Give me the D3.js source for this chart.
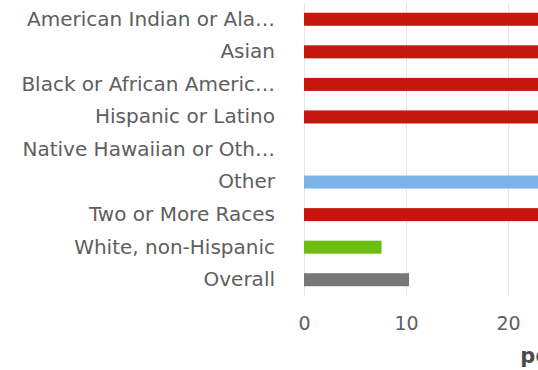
<!DOCTYPE html>
<html>
<head>
<meta charset="utf-8">
<script src="https://cdn.jsdelivr.net/npm/d3@7"></script>
<style>
    body { margin: 0; background: #fff; }
    .chartdiv { width: 538px; height: 370px; overflow: hidden; }
</style>
</head>
<body>
<div class="chartdiv"></div>
<script>
// categories (labels as shown, truncated)
const categories = ["American Indian or Ala…", "Asian", "Black or African Americ…", "Hispanic or Latino",
    "Native Hawaiian or Oth…", "Other", "Two or More Races", "White, non-Hispanic", "Overall"]
// values in percent (red/blue bars run off the right edge, estimated)
const values = [34, 31, 38, 33, null, 29, 36, 7.6, 10.3]
const barColors = ["#c4170e", "#c4170e", "#c4170e", "#c4170e", "#c4170e", "#7cb5ec", "#c4170e", "#6cbd12", "#787878"]
const xTicks = [0, 10, 20]
const axisTitle = "percent"

let w = 538, h = 370
let marginLeft = 304, marginTop = 3, plotH = 293

let svg = d3.select('.chartdiv').append('svg')
    .attr('width', w)
    .attr('height', h)

let xScale = d3.scaleLinear()
    .domain([0, 50])
    .range([marginLeft, marginLeft + 510])

let yScale = d3.scaleBand()
    .domain(categories)
    .range([marginTop, marginTop + plotH])
    .paddingInner(0.6)
    .paddingOuter(0.3)

// gridlines
svg.append('g')
    .selectAll('line')
    .data(xTicks)
    .enter()
    .append('line')
    .attr('x1', d => xScale(d) + 0.5)
    .attr('x2', d => xScale(d) + 0.5)
    .attr('y1', marginTop)
    .attr('y2', marginTop + plotH)
    .style('stroke', '#e6e6e6')
    .style('stroke-width', 1)

// bars
let barData = categories.map((c, i) => ({ cat: c, val: values[i], color: barColors[i] }))
    .filter(d => d.val != null)
svg.append('g')
    .selectAll('rect')
    .data(barData)
    .enter()
    .append('rect')
    .attr('x', xScale(0))
    .attr('y', d => yScale(d.cat))
    .attr('width', d => xScale(d.val) - xScale(0))
    .attr('height', yScale.bandwidth())
    .style('fill', d => d.color)

// category labels
let yAxis = d3.axisLeft(yScale).tickSize(0).tickPadding(29)
let gy = svg.append('g')
    .attr('transform', 'translate(' + marginLeft + ',0)')
    .call(yAxis)
gy.select('.domain').remove()
gy.selectAll('text')
    .style('font-family', 'DejaVu Sans')
    .style('font-size', '20px')
    .style('fill', '#5e5e5e')

// x axis tick labels
let xAxis = d3.axisBottom(xScale).tickValues(xTicks).tickSize(0).tickPadding(21)
let gx = svg.append('g')
    .attr('transform', 'translate(0,' + (marginTop + plotH) + ')')
    .call(xAxis)
gx.select('.domain').remove()
gx.selectAll('text')
    .style('font-family', 'DejaVu Sans')
    .style('font-size', '19px')
    .style('fill', '#5e5e5e')

// x axis title (the chart is cropped on the right, so only its start shows)
svg.append('text')
    .attr('x', (xScale.range()[0] + xScale.range()[1]) / 2 + 7)
    .attr('y', 363)
    .attr('text-anchor', 'middle')
    .style('font-family', 'DejaVu Sans')
    .style('font-size', '21px')
    .style('font-weight', 'bold')
    .style('fill', '#4a4a4a')
    .text(axisTitle)
</script>
</body>
</html>
